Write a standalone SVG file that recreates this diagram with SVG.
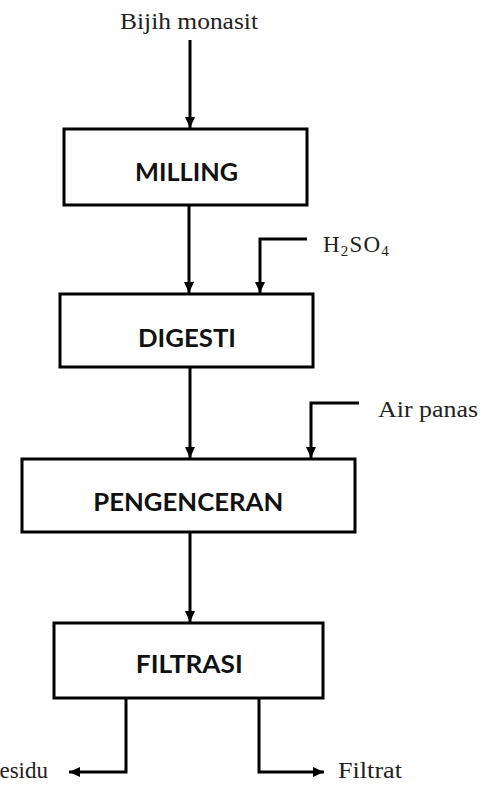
<svg xmlns="http://www.w3.org/2000/svg" width="483" height="789" viewBox="0 0 483 789">
<style>
.box{fill:#fff;stroke:#000;stroke-width:3}
.lbl{font-family:Lato,"Open Sans","Liberation Sans",sans-serif;font-weight:bold;font-size:25px;fill:#111;text-anchor:middle}
.t{font-family:"Liberation Serif","Times New Roman",serif;font-size:23px;fill:#222}
.c{fill:none;stroke:#000;stroke-width:3}
</style>
<defs>
<marker id="ah" markerUnits="userSpaceOnUse" markerWidth="12" markerHeight="12" viewBox="0 0 12 12" refX="11" refY="6" orient="auto">
<path d="M0,1 L11,6 L0,11 z" fill="#000"/>
</marker>
</defs>
<rect width="483" height="789" fill="#fff"/>
<g id="connectors">
<path class="c" d="M190,40 V128" marker-end="url(#ah)"/>
<path class="c" d="M189,205 V293" marker-end="url(#ah)"/>
<path class="c" d="M307,239 H260 V293" marker-end="url(#ah)"/>
<path class="c" d="M190,367 V458" marker-end="url(#ah)"/>
<path class="c" d="M359,403 H311 V458" marker-end="url(#ah)"/>
<path class="c" d="M190,532 V622" marker-end="url(#ah)"/>
<path class="c" d="M126,698 V772 H69" marker-end="url(#ah)"/>
<path class="c" d="M259,698 V772 H324" marker-end="url(#ah)"/>
</g>
<g id="milling">
<rect class="box" x="64" y="129" width="243" height="76"/>
<text class="lbl" x="186.5" y="181" textLength="103" lengthAdjust="spacingAndGlyphs">MILLING</text>
</g>
<g id="digesti">
<rect class="box" x="60" y="294" width="253" height="73"/>
<text class="lbl" x="187" y="347" textLength="98" lengthAdjust="spacingAndGlyphs">DIGESTI</text>
</g>
<g id="pengenceran">
<rect class="box" x="22" y="459" width="333" height="73"/>
<text class="lbl" x="188.3" y="511" textLength="190" lengthAdjust="spacingAndGlyphs">PENGENCERAN</text>
</g>
<g id="filtrasi">
<rect class="box" x="54" y="623" width="269" height="75"/>
<text class="lbl" x="189.3" y="673" textLength="107" lengthAdjust="spacingAndGlyphs">FILTRASI</text>
</g>
<g id="labels">
<text class="t" x="120" y="28.5" textLength="138" lengthAdjust="spacingAndGlyphs">Bijih monasit</text>
<text class="t" x="323" y="251.5" letter-spacing="1.2">H<tspan font-size="15" dy="4">2</tspan><tspan dy="-4">SO</tspan><tspan font-size="15" dy="4">4</tspan></text>
<text class="t" x="378" y="416.5" textLength="100" lengthAdjust="spacingAndGlyphs">Air panas</text>
<text class="t" x="48" y="778" text-anchor="end">Residu</text>
<text class="t" x="338" y="778" textLength="64" lengthAdjust="spacingAndGlyphs">Filtrat</text>
</g>
</svg>
